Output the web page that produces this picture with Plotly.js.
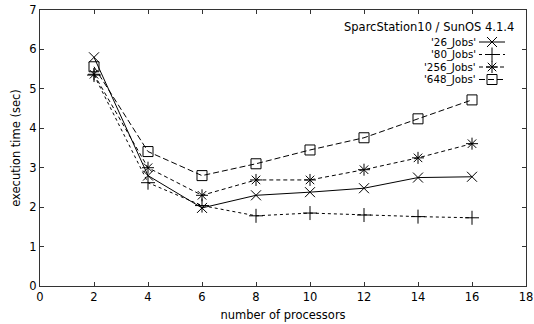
<!DOCTYPE html>
<html><head><meta charset="utf-8">
<script src="https://cdn.plot.ly/plotly-3.0.1.min.js"></script>
<style>html,body{margin:0;padding:0;background:#fff}</style>
</head><body><div id="chart" style="width:534px;height:324px"></div>
<script>
const processors = [2, 4, 6, 8, 10, 12, 14, 16];
const jobs26  = [5.80, 2.80, 1.98, 2.30, 2.38, 2.48, 2.75, 2.77];
const jobs80  = [5.35, 2.62, 2.04, 1.78, 1.85, 1.80, 1.76, 1.73];
const jobs256 = [5.37, 3.00, 2.30, 2.69, 2.69, 2.95, 3.25, 3.61];
const jobs648 = [5.56, 3.41, 2.80, 3.10, 3.45, 3.76, 4.24, 4.72];
const seriesNames = ["'26_Jobs'", "'80_Jobs'", "'256_Jobs'", "'648_Jobs'"];
const legendTitle = "SparcStation10 / SunOS 4.1.4";
const xTitle = "number of processors";
const yTitle = "execution time (sec)";

const styles = [
  {dash: 'solid', symbol: 'x-thin-open', size: 10},
  {dash: 'dot', symbol: 'cross-thin-open', size: 10},
  {dash: '4px,3px', symbol: 'asterisk-open', size: 10},
  {dash: '6px,3px', symbol: 'square-open', size: 10}
];
const allY = [jobs26, jobs80, jobs256, jobs648];
const font = 'DejaVu Sans, sans-serif';
const fs = 11.5;
const legFs = 10.3;

const traces = allY.map((y, i) => ({
  x: processors, y: y, type: 'scatter', mode: 'lines+markers',
  name: seriesNames[i], showlegend: false,
  line: {color: '#000', width: 1, dash: styles[i].dash},
  marker: {symbol: styles[i].symbol, size: styles[i].size, color: '#000', line: {color: '#000', width: 1}}
}));

// custom legend (samples to the right of right-aligned text), in pixel-like overlay axes
const legY = [42, 54.5, 67, 79.5];
const annotations = [{
  xref: 'x2', yref: 'y2', x: 515, y: 27, text: legendTitle, showarrow: false, borderpad: 0,
  xanchor: 'right', yanchor: 'middle', font: {family: font, size: fs, color: '#000'}
}];
legY.forEach((ly, i) => {
  annotations.push({xref: 'x2', yref: 'y2', x: 477, y: ly, text: seriesNames[i], showarrow: false, borderpad: 0,
    xanchor: 'right', yanchor: 'middle', font: {family: font, size: legFs, color: '#000'}});
  traces.push({x: [479, 505], y: [ly, ly], xaxis: 'x2', yaxis: 'y2', type: 'scatter', mode: 'lines',
    showlegend: false, hoverinfo: 'skip', line: {color: '#000', width: 1, dash: styles[i].dash}});
  traces.push({x: [492], y: [ly], xaxis: 'x2', yaxis: 'y2', type: 'scatter', mode: 'markers',
    showlegend: false, hoverinfo: 'skip',
    marker: {symbol: styles[i].symbol, size: styles[i].size, color: '#000', line: {color: '#000', width: 1}}});
});

const axisCommon = {
  showgrid: false, zeroline: false, showline: true, linecolor: '#333', linewidth: 1, mirror: 'allticks',
  ticks: 'inside', ticklen: 4, tickcolor: '#333', tickfont: {family: font, size: fs, color: '#000'}
};

const layout = {
  width: 534, height: 324, margin: {l: 40, r: 8, t: 10, b: 38},
  paper_bgcolor: '#fff', plot_bgcolor: '#fff', showlegend: false,
  xaxis: Object.assign({}, axisCommon, {range: [0, 18], tick0: 0, dtick: 2,
    title: {text: xTitle, font: {family: font, size: fs, color: '#000'}, standoff: 8}}),
  yaxis: Object.assign({}, axisCommon, {range: [0, 7], tick0: 0, dtick: 1,
    title: {text: yTitle, font: {family: font, size: fs, color: '#000'}, standoff: 6}}),
  xaxis2: {overlaying: 'x', range: [40, 526], visible: false, fixedrange: true},
  yaxis2: {overlaying: 'y', range: [286, 10], visible: false, fixedrange: true},
  annotations: annotations
};

Plotly.newPlot('chart', traces, layout, {displayModeBar: false, staticPlot: true});
</script></body></html>
